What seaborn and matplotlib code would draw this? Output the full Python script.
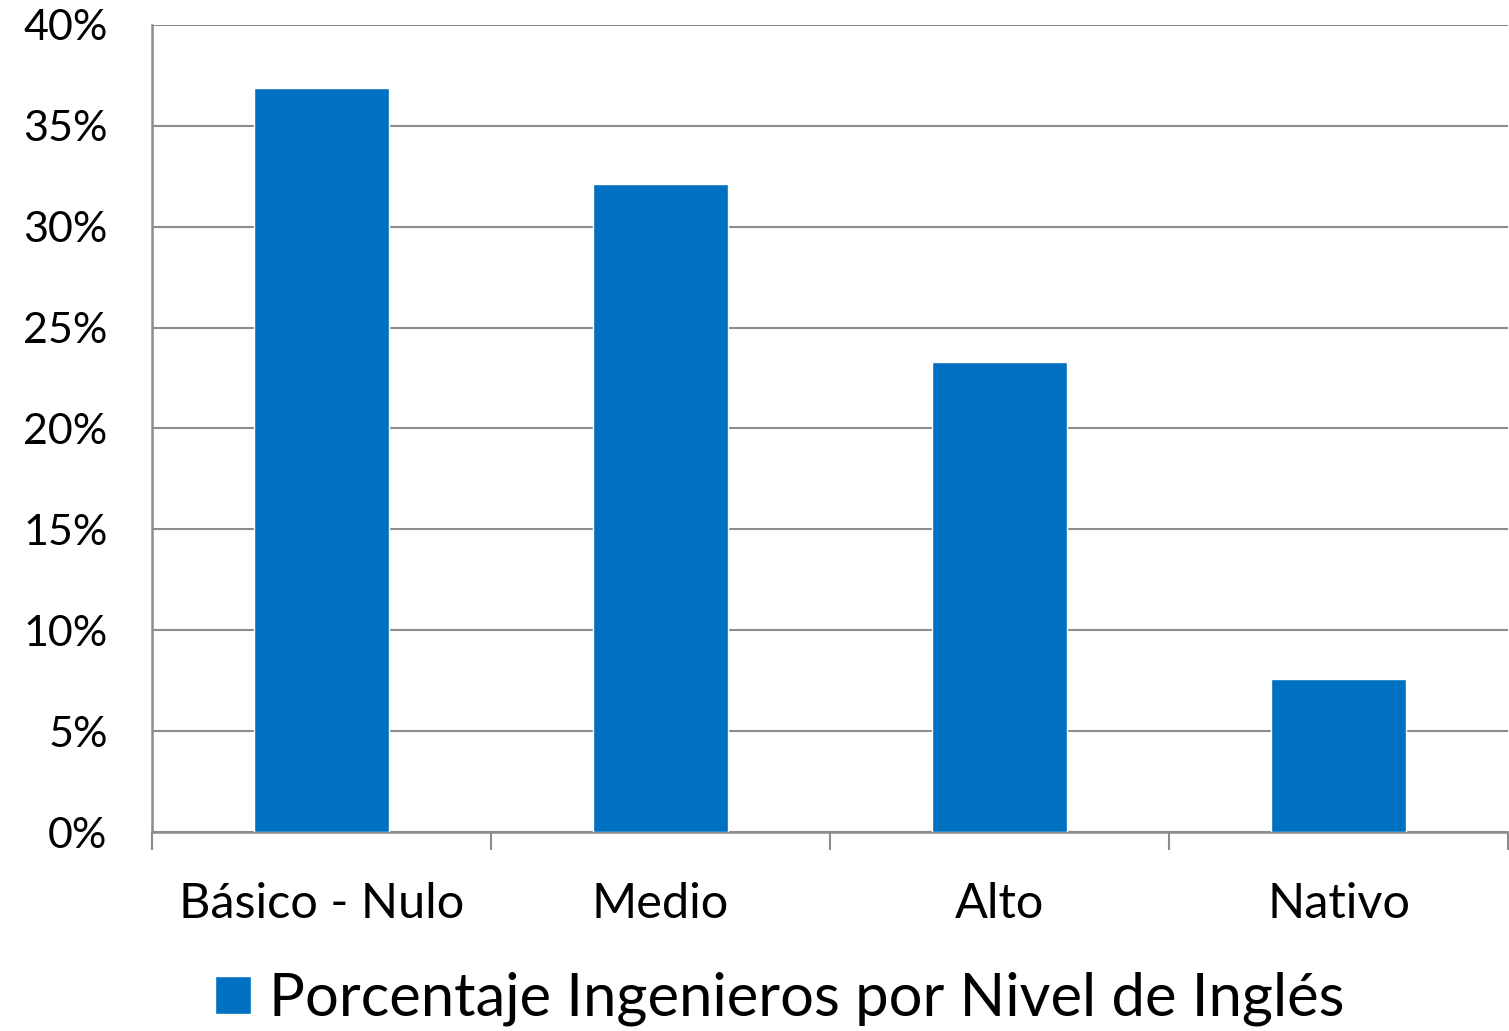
import matplotlib
matplotlib.use("Agg")
import matplotlib.pyplot as plt
import seaborn as sns
import pandas as pd
from matplotlib.ticker import FuncFormatter, FixedLocator

categories = ["Básico - Nulo", "Medio", "Alto", "Nativo"]
values = [0.369, 0.321, 0.233, 0.076]
series_name = "Porcentaje Ingenieros por Nivel de Inglés"
yticks = [0.0, 0.05, 0.10, 0.15, 0.20, 0.25, 0.30, 0.35, 0.40]

sns.set_theme(style="white")
plt.rcParams['font.family'] = ['Lato', 'DejaVu Sans']

df = pd.DataFrame({"Nivel": categories, "Porcentaje": values})

fig = plt.figure(figsize=(15.09, 10.31), dpi=100)
ax = fig.add_axes([152/1509, 1 - 832/1031, 1356/1509, (832 - 25)/1031])

grey = "#8c8c8c"
sns.barplot(data=df, x="Nivel", y="Porcentaje", color="#0070C0", width=0.4,
            saturation=1, ax=ax, label=series_name, zorder=3)

ax.set_xlim(-0.5, 3.5)
ax.set_ylim(0, 0.40)
ax.set_yticks(yticks)
ax.yaxis.set_major_formatter(FuncFormatter(lambda v, p: f"{v*100:.0f}%"))
ax.grid(axis="y", color=grey, linewidth=1.5, zorder=0)
ax.set_axisbelow(True)
ax.set_xlabel("")
ax.set_ylabel("")

for s in ["top", "right"]:
    ax.spines[s].set_visible(False)
for s in ["left", "bottom"]:
    ax.spines[s].set_color(grey)
    ax.spines[s].set_linewidth(1.8)

ax.tick_params(axis="y", which="major", length=11, width=1.5, color=grey,
               labelsize=31, pad=21, labelcolor="black")
ax.tick_params(axis="x", which="major", length=0, labelsize=35, pad=36,
               labelcolor="black")
ax.xaxis.set_minor_locator(FixedLocator([-0.5, 0.5, 1.5, 2.5, 3.5]))
ax.tick_params(axis="x", which="minor", length=13, width=1.5, color=grey,
               bottom=True)

if ax.legend_:
    ax.legend_.remove()
handles, labels = ax.get_legend_handles_labels()
fig.legend(handles, labels, loc="lower center", bbox_to_anchor=(780/1509, -0.036),
           frameon=False, fontsize=43, handlelength=0.6, handleheight=0.6,
           handletextpad=0.3, borderpad=0.2, labelcolor="black")

fig.savefig("out.png", dpi=100, facecolor="white")
